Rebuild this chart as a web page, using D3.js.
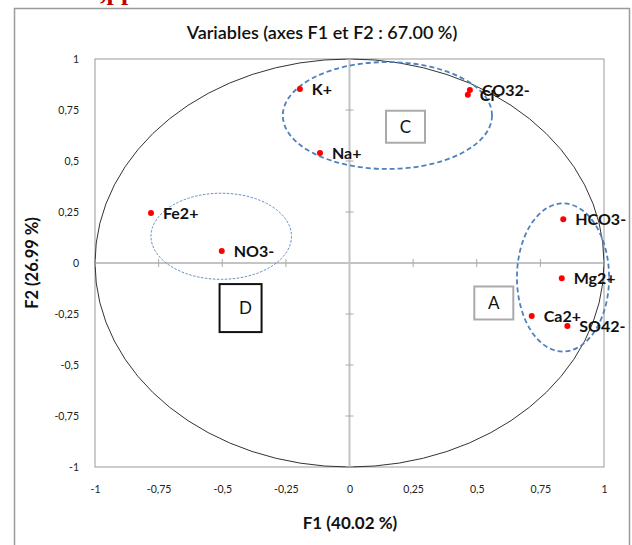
<!DOCTYPE html>
<html>
<head>
<meta charset="utf-8">
<script src="https://cdn.jsdelivr.net/npm/d3@7"></script>
<style>
  html, body { margin: 0; padding: 0; background: #fff; }
  svg { display: block; }
</style>
</head>
<body>
<svg id="chart" width="632" height="545"></svg>
<script>
// ---- data ----
const variables = ["K+", "Na+", "CO32-", "Cl-", "Fe2+", "NO3-", "HCO3-", "Mg2+", "Ca2+", "SO42-"];
const f1Values  = [-0.195, -0.116, 0.473, 0.465, -0.780, -0.502, 0.840, 0.834, 0.716, 0.856];
const f2Values  = [ 0.853,  0.539, 0.848, 0.825,  0.245,  0.059, 0.214, -0.075, -0.260, -0.309];
const tickValues = [-1, -0.75, -0.5, -0.25, 0, 0.25, 0.5, 0.75, 1];
const groupNames = ["C", "D", "A"];
const groupCx = [0.149, -0.504, 0.839];
const groupCy = [0.723, 0.131, -0.071];
const groupRx = [0.411, 0.276, 0.181];
const groupRy = [0.262, 0.211, 0.363];
const boxCx   = [0.220, -0.428, 0.567];
const boxCy   = [0.668, -0.221, -0.196];
const titleText = "Variables (axes F1 et F2 : 67.00 %)";
const xTitle = "F1 (40.02 %)";
const yTitle = "F2 (26.99 %)";

// ---- drawing ----
const svg = d3.select("#chart");
const font = "Lato, 'Open Sans', 'Liberation Sans', sans-serif";
const x = d3.scaleLinear().domain([-1, 1]).range([95, 604]);
const y = d3.scaleLinear().domain([-1, 1]).range([467, 59]);
const fmt = d => d === 0 ? "0" : String(d).replace(".", ",");

// fragment of surrounding page text (cut at top)
svg.append("text").attr("x", 100).attr("y", 0).attr("font-family", "'Liberation Serif', serif")
  .attr("font-weight", 700).attr("font-size", 26).attr("fill", "#c00000").text(",pp");

// outer chart frame
svg.append("rect").attr("x", 14.5).attr("y", 8.5).attr("width", 615).attr("height", 560)
  .attr("fill", "none").attr("stroke", "#9a9a9a").attr("stroke-width", 1.5);

// title
svg.append("text").attr("x", 322).attr("y", 39).attr("text-anchor", "middle")
  .attr("font-family", font).attr("font-weight", 600).attr("font-size", 18).attr("fill", "#111").text(titleText);

// plot box
svg.append("rect").attr("x", x(-1)).attr("y", y(1)).attr("width", x(1) - x(-1)).attr("height", y(-1) - y(1))
  .attr("fill", "none").attr("stroke", "#9a9a9a").attr("stroke-width", 1);

// axis tick labels
const yAxis = d3.axisLeft(y).tickValues(tickValues).tickSize(0).tickPadding(16).tickFormat(fmt);
const gy = svg.append("g").attr("transform", `translate(${x(-1)},0)`).call(yAxis);
const xAxis = d3.axisBottom(x).tickValues(tickValues).tickSize(0).tickPadding(19).tickFormat(fmt);
const gx = svg.append("g").attr("transform", `translate(0,${y(-1)})`).call(xAxis);
[gx, gy].forEach(g => {
  g.select(".domain").remove();
  g.selectAll("text").attr("font-family", font).attr("font-size", 10.5).attr("fill", "#222");
});

// correlation circle
svg.append("ellipse").attr("cx", x(0)).attr("cy", y(0))
  .attr("rx", x(1) - x(0)).attr("ry", y(0) - y(1))
  .attr("fill", "none").attr("stroke", "#333").attr("stroke-width", 1);

// zero axes with cross ticks
svg.append("line").attr("x1", x(-1)).attr("x2", x(1)).attr("y1", y(0)).attr("y2", y(0))
  .attr("stroke", "#8a8a8a").attr("stroke-width", 1.2);
svg.append("line").attr("x1", x(0)).attr("x2", x(0)).attr("y1", y(1)).attr("y2", y(-1))
  .attr("stroke", "#c4c4c4").attr("stroke-width", 2);
svg.append("g").selectAll("line").data(tickValues.filter(t => t !== 0)).join("line")
  .attr("x1", d => x(d)).attr("x2", d => x(d)).attr("y1", y(0) - 4).attr("y2", y(0) + 4)
  .attr("stroke", "#aaa").attr("stroke-width", 1);
svg.append("g").selectAll("line").data(tickValues.filter(t => t !== 0)).join("line")
  .attr("y1", d => y(d)).attr("y2", d => y(d)).attr("x1", x(0) - 4).attr("x2", x(0) + 4)
  .attr("stroke", "#aaa").attr("stroke-width", 1);

// group ellipses
const groups = groupNames.map((n, i) => ({ n, cx: groupCx[i], cy: groupCy[i], rx: groupRx[i], ry: groupRy[i], bx: boxCx[i], by: boxCy[i] }));
svg.append("g").selectAll("ellipse").data(groups).join("ellipse")
  .attr("cx", d => x(d.cx)).attr("cy", d => y(d.cy))
  .attr("rx", d => x(d.rx) - x(0)).attr("ry", d => y(0) - y(d.ry))
  .attr("fill", "none").attr("stroke", "#4f81bd")
  .attr("stroke-width", d => d.n === "D" ? 0.9 : 1.8)
  .attr("stroke-dasharray", d => d.n === "D" ? "2.5,1.5" : "5,3");

// group letter boxes
const boxW = { C: 39, D: 42, A: 39 }, boxH = { C: 32, D: 48, A: 33 };
const bg = svg.append("g").selectAll("g").data(groups).join("g")
  .attr("transform", d => `translate(${x(d.bx)},${y(d.by)})`);
bg.append("rect")
  .attr("x", d => -boxW[d.n] / 2).attr("y", d => -boxH[d.n] / 2)
  .attr("width", d => boxW[d.n]).attr("height", d => boxH[d.n])
  .attr("fill", "#fff").attr("stroke", d => d.n === "D" ? "#111" : "#aaa").attr("stroke-width", 2);
bg.append("text").attr("x", d => d.n === "D" ? 5 : 0).attr("y", 6).attr("text-anchor", "middle")
  .attr("font-family", font).attr("font-size", 17).attr("fill", "#111").text(d => d.n);

// points
const pts = variables.map((v, i) => ({ v, f1: f1Values[i], f2: f2Values[i] }));
svg.append("g").selectAll("circle").data(pts).join("circle")
  .attr("cx", d => x(d.f1)).attr("cy", d => y(d.f2)).attr("r", 3)
  .attr("fill", "#ff0000");
svg.append("g").selectAll("text").data(pts).join("text")
  .attr("x", d => x(d.f1) + 12).attr("y", d => y(d.f2) + 6)
  .attr("font-family", font).attr("font-weight", 700).attr("font-size", 16).attr("fill", "#111")
  .text(d => d.v);

// axis titles
svg.append("text").attr("x", 350).attr("y", 529).attr("text-anchor", "middle")
  .attr("font-family", font).attr("font-weight", 700).attr("font-size", 17).attr("fill", "#111").text(xTitle);
svg.append("text").attr("transform", "translate(38,263) rotate(-90)").attr("text-anchor", "middle")
  .attr("font-family", font).attr("font-weight", 700).attr("font-size", 16.5).attr("fill", "#111").text(yTitle);
</script>
</body>
</html>
